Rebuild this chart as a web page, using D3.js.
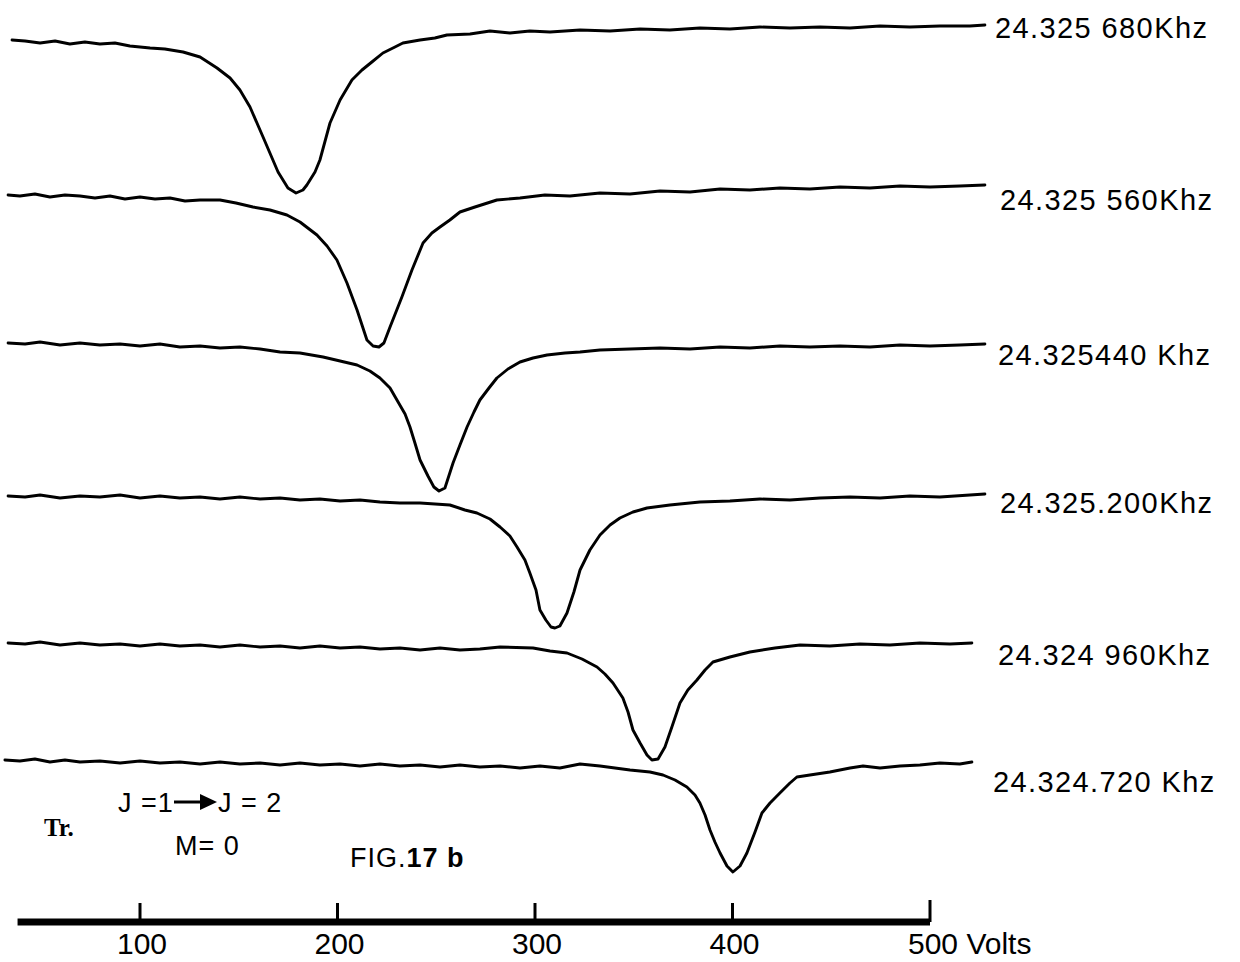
<!DOCTYPE html>
<html lang="en">
<head>
<meta charset="UTF-8">
<title>FIG.17 b</title>
<style>
    body { margin: 0; background: #fff; }
    svg { display: block; background: #fff; }
    .trace { fill: none; stroke: #000; stroke-width: 2.9; stroke-linejoin: round; stroke-linecap: round; }
    .freq { font-family: "Liberation Sans", Arial, sans-serif; font-size: 29px; letter-spacing: 1.4px; fill: #000; }
    .tick-label { font-family: "Liberation Sans Narrow", "Liberation Sans", sans-serif; font-size: 30px; fill: #000; }
    .note { font-family: "Liberation Sans", Arial, sans-serif; font-size: 27px; letter-spacing: 1px; fill: #000; }
</style>
</head>
<body>
<div class="g-chart-container"></div>
<script src="https://d3js.org/d3.v7.min.js"></script>
<script>
// recorder traces: [volts, deflection from the trace's own baseline]
var trace680 = [[35.2,0.2],[41.8,0.1],[49.4,-0.1],[57.0,0.1],[64.5,-0.2],[72.1,0],[79.7,-0.2],[87.3,-0.1],[94.9,-0.4],
    [105.1,-0.6],[112.6,-0.7],[121.8,-1.0],[130.4,-1.5],[139.0,-2.6],[145.6,-3.6],[150.6,-4.8],[155.7,-6.5],[162.3,-9.5],
    [169.9,-13.0],[174.9,-14.6],[179.0,-15.1],[182.5,-14.8],[184.5,-14.3],[188.6,-13.0],[191.1,-11.8],[196.2,-8.1],
    [201.3,-5.8],[207.3,-3.8],[212.4,-2.8],[217.4,-2.0],[223.0,-1.1],[229.1,-0.5],[233.1,-0.1],[241.8,0.2],[249.3,0.4],
    [255.4,0.7],[267.1,0.8],[277.2,1.1],[287.3,0.9],[297.4,1.1],[307.6,1.0],[322.8,1.2],[338.0,1.1],[353.2,1.3],
    [368.3,1.2],[383.5,1.4],[398.7,1.3],[413.9,1.5],[429.1,1.4],[444.3,1.5],[459.5,1.4],[474.7,1.6],[489.8,1.5],
    [505.0,1.6],[520.2,1.6],[527.8,1.7]];

var trace560 = [[33.2,0.2],[39.2,0.1],[46.8,0.3],[54.4,0],[62.0,0.2],[69.6,0.1],[77.2,-0.1],[84.8,0.1],[92.4,-0.2],
    [100.0,0],[107.6,-0.2],[115.2,-0.1],[122.8,-0.4],[130.4,-0.3],[140.5,-0.3],[148.6,-0.6],[157.2,-1.0],[165.8,-1.3],
    [174.4,-1.8],[181.0,-2.5],[189.6,-3.8],[194.7,-4.9],[199.7,-6.3],[204.8,-8.6],[209.9,-11.3],[214.9,-14.3],
    [218.0,-14.9],[221.0,-15.0],[223.5,-14.6],[226.6,-13.0],[232.6,-10.0],[237.7,-7.3],[243.3,-4.6],[247.8,-3.6],
    [251.9,-3.0],[256.9,-2.3],[262.0,-1.5],[269.6,-1.0],[280.7,-0.3],[292.4,-0.1],[305.0,0.2],[317.7,0.1],[332.9,0.4],
    [348.1,0.3],[363.3,0.6],[378.5,0.5],[393.7,0.8],[408.8,0.7],[424.0,0.9],[439.2,0.8],[454.4,1.0],[469.6,0.9],
    [484.8,1.1],[500.0,1.0],[515.1,1.1],[527.8,1.2]];

var trace440 = [[33.2,0.2],[41.8,0.1],[49.4,0.3],[59.5,0],[69.6,0.2],[79.7,0],[89.9,0.1],[100.0,-0.1],[110.1,0.1],
    [120.2,-0.2],[130.4,-0.1],[140.5,-0.3],[150.6,-0.2],[160.8,-0.4],[170.9,-0.7],[181.0,-0.8],[192.7,-1.2],[201.3,-1.6],
    [209.9,-2.0],[216.4,-2.6],[221.5,-3.3],[226.6,-4.3],[230.1,-5.5],[234.2,-6.9],[236.7,-8.2],[239.2,-9.8],[241.8,-11.5],
    [245.8,-13.1],[248.8,-14.2],[251.4,-14.6],[254.4,-14.3],[258.5,-11.8],[262.0,-10.0],[265.6,-8.2],[269.1,-6.7],
    [272.1,-5.5],[276.7,-4.3],[280.7,-3.3],[286.3,-2.4],[292.4,-1.7],[299.0,-1.3],[306.1,-1.0],[315.2,-0.8],[322.8,-0.7],
    [332.9,-0.5],[348.1,-0.4],[363.3,-0.3],[378.5,-0.4],[393.7,-0.2],[408.8,-0.3],[424.0,-0.1],[439.2,-0.2],[454.4,-0.1],
    [469.6,-0.2],[484.8,0],[500.0,-0.1],[515.1,0],[527.8,0.1]];

var trace200 = [[33.2,0.1],[41.8,0],[49.4,0.2],[59.5,-0.1],[69.6,0.1],[79.7,0],[89.9,0.2],[100.0,-0.1],[110.1,0.1],
    [120.2,-0.1],[130.4,0],[140.5,-0.2],[150.6,0],[160.8,-0.2],[170.9,-0.1],[181.0,-0.3],[191.1,-0.2],[201.3,-0.4],
    [211.4,-0.3],[221.5,-0.5],[231.6,-0.6],[241.8,-0.6],[256.9,-0.8],[264.5,-1.3],[270.6,-1.6],[277.2,-2.2],[282.3,-3.0],
    [287.3,-3.9],[290.9,-5.0],[294.9,-6.3],[297.4,-7.6],[300.5,-9.3],[302.5,-11.3],[305.5,-12.3],[308.1,-13.0],
    [310.1,-13.1],[312.6,-12.9],[316.2,-11.6],[319.7,-9.5],[322.8,-7.3],[327.8,-5.3],[332.9,-3.8],[338.0,-2.8],
    [343.0,-2.1],[349.6,-1.5],[356.7,-1.1],[368.3,-0.8],[383.5,-0.5],[398.7,-0.4],[413.9,-0.2],[429.1,-0.3],[444.3,-0.1],
    [459.5,0],[474.7,-0.1],[489.8,0.1],[505.0,0],[520.2,0.2],[527.8,0.3]];

var trace960 = [[33.2,0.2],[41.8,0.1],[49.4,0.3],[59.5,0],[69.6,0.2],[79.7,0],[89.9,0.1],[100.0,-0.1],[110.1,0.1],
    [120.2,-0.1],[130.4,0],[140.5,-0.2],[150.6,0],[160.8,-0.2],[170.9,-0.1],[181.0,-0.3],[191.1,-0.1],[201.3,-0.3],
    [211.4,-0.2],[221.5,-0.4],[231.6,-0.3],[241.8,-0.5],[251.9,-0.3],[262.0,-0.5],[272.1,-0.4],[282.3,-0.2],[299.0,-0.3],
    [307.6,-0.6],[316.2,-0.8],[323.8,-1.4],[331.4,-2.2],[335.4,-2.9],[339.5,-3.8],[344.5,-5.3],[347.1,-6.7],[349.6,-8.5],
    [353.2,-9.8],[356.7,-11.0],[359.2,-11.5],[362.3,-11.4],[365.8,-10.2],[369.3,-8.2],[373.4,-5.8],[377.4,-4.5],
    [382.0,-3.5],[386.1,-2.5],[390.1,-1.7],[398.7,-1.2],[408.8,-0.7],[421.5,-0.3],[434.2,0],[449.3,-0.1],[464.5,0.1],
    [479.7,0],[494.9,0.2],[510.1,0.1],[521.2,0.2]];

var trace720 = [[31.6,0.2],[39.2,0.1],[46.8,0.3],[54.4,0],[62.0,0.2],[69.6,0],[79.7,0.1],[89.9,-0.1],[100.0,0.1],
    [110.1,-0.1],[120.2,0],[130.4,-0.2],[140.5,0],[150.6,-0.2],[160.8,-0.1],[170.9,-0.3],[181.0,-0.1],[191.1,-0.3],
    [201.3,-0.2],[211.4,-0.4],[221.5,-0.2],[231.6,-0.4],[241.8,-0.3],[251.9,-0.5],[262.0,-0.3],[272.1,-0.5],[282.3,-0.4],
    [292.4,-0.6],[302.5,-0.4],[312.6,-0.6],[322.8,-0.2],[332.9,-0.4],[348.1,-0.8],[358.2,-1.0],[364.8,-1.3],[370.9,-1.8],
    [376.9,-2.5],[381.0,-3.3],[383.5,-4.1],[386.1,-5.3],[388.6,-6.8],[391.1,-8.0],[393.7,-9.1],[397.2,-10.4],
    [400.2,-11.0],[403.8,-10.4],[407.3,-9.1],[411.4,-7.0],[414.9,-5.1],[419.0,-4.1],[424.0,-3.1],[429.1,-2.1],
    [432.6,-1.5],[439.2,-1.3],[449.3,-1.0],[459.5,-0.6],[466.1,-0.4],[474.7,-0.6],[484.8,-0.4],[494.9,-0.3],[505.0,-0.1],
    [515.1,-0.2],[521.2,0]];

var traces = [trace680, trace560, trace440, trace200, trace960, trace720];
var freqLabels = ["24.325 680Khz", "24.325 560Khz", "24.325440 Khz", "24.325.200Khz", "24.324 960Khz", "24.324.720 Khz"];
var baselineLevels = [91.8, 76.3, 61.5, 46.3, 31.5, 19.8];

var tickValues = [100, 200, 300, 400, 500];
var tickLabels = ["100", "200", "300", "400", "500 Volts"];
var axisStart = 38;

var w = 1240, h = 962;
// label placement (px): left edge and drop below the trace baseline
var labelX = [995, 1000, 998, 1000, 998, 993];
var labelDrop = [-4, 13, 20, 16, 20, 30];

var svg = d3.select(".g-chart-container").append("svg")
    .attr("width", w)
    .attr("height", h);

var xscale = d3.scaleLinear()
    .domain([100, 500])
    .range([140, 930]);

var yscale = d3.scaleLinear()
    .domain([0, 96])
    .range([960, 0]);

traces.forEach(function(trace, i) {
    var lineGenerator = d3.line()
        .x(function(d) { return xscale(d[0]); })
        .y(function(d) { return yscale(baselineLevels[i] + d[1]); });

    svg.append("path")
        .datum(trace)
        .attr("class", "trace")
        .attr("d", lineGenerator);

    svg.append("text")
        .attr("class", "freq")
        .attr("x", labelX[i])
        .attr("y", yscale(baselineLevels[i]) + labelDrop[i])
        .text(freqLabels[i]);
});

// voltage scale bar
var barY = 922;
svg.append("line")
    .attr("x1", xscale(axisStart))
    .attr("x2", xscale(500))
    .attr("y1", barY)
    .attr("y2", barY)
    .attr("stroke", "#000")
    .attr("stroke-width", 7);

svg.selectAll(".volt-tick")
    .data(tickValues)
    .enter()
    .append("line")
        .attr("class", "volt-tick")
        .attr("x1", function(d) { return xscale(d); })
        .attr("x2", function(d) { return xscale(d); })
        .attr("y1", function(d) { return d == 500 ? 900 : 903; })
        .attr("y2", barY)
        .attr("stroke", "#000")
        .attr("stroke-width", 3);

svg.selectAll(".tick-label")
    .data(tickValues)
    .enter()
    .append("text")
        .attr("class", "tick-label")
        .attr("x", function(d) { return d == 500 ? xscale(d) - 22 : xscale(d) + 2; })
        .attr("y", 954)
        .attr("text-anchor", function(d) { return d == 500 ? "start" : "middle"; })
        .text(function(d, i) { return tickLabels[i]; });

// annotations
svg.append("text")
    .attr("x", 44)
    .attr("y", 836)
    .attr("font-family", "'Liberation Serif', serif")
    .attr("font-weight", "bold")
    .attr("font-size", 25)
    .text("Tr.");

svg.append("text").attr("class", "note").attr("x", 118).attr("y", 812).text("J =1");
svg.append("line")
    .attr("x1", 174).attr("x2", 204)
    .attr("y1", 802).attr("y2", 802)
    .attr("stroke", "#000").attr("stroke-width", 3);
svg.append("path")
    .attr("d", "M200,794L217,802L200,810Z")
    .attr("fill", "#000");
svg.append("text").attr("class", "note").attr("x", 218).attr("y", 812).text("J = 2");

svg.append("text").attr("class", "note").attr("x", 175).attr("y", 855).text("M= 0");

var fig = svg.append("text").attr("class", "note").attr("x", 350).attr("y", 867).attr("font-size", 25);
fig.append("tspan").text("FIG.");
fig.append("tspan").attr("font-weight", "bold").text("17 b");
</script>
</body>
</html>
